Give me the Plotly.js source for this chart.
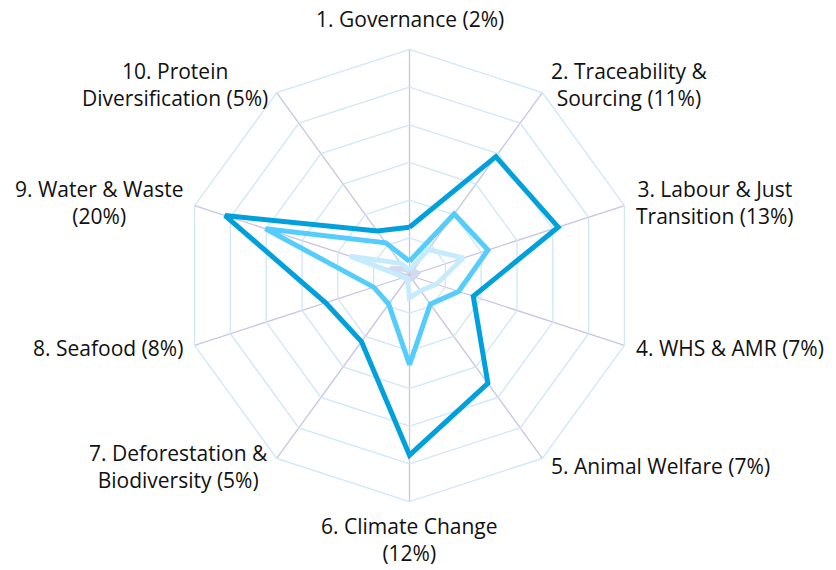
<!DOCTYPE html>
<html>
<head>
<meta charset="utf-8">
<script src="https://cdn.plot.ly/plotly-3.0.1.min.js"></script>
<style>html,body{margin:0;padding:0;background:#fff;}#chart{width:836px;height:570px;}</style>
</head>
<body>
<div id="chart"></div>
<script>
// Category labels (axis order, clockwise from top)
const categories = [
  "1. Governance (2%)",
  "2. Traceability &<br>Sourcing (11%)",
  "3. Labour & Just<br>Transition (13%)",
  "4. WHS & AMR (7%)",
  "5. Animal Welfare (7%)",
  "6. Climate Change<br>(12%)",
  "7. Deforestation &<br>Biodiversity (5%)",
  "8. Seafood (8%)",
  "9. Water & Waste<br>(20%)",
  "10. Protein<br>Diversification (5%)"
];
const categoryKeys = ["c1","c2","c3","c4","c5","c6","c7","c8","c9","c10"];

// Series values (grid rings at 1..6)
const seriesDark     = [1.28, 3.90, 4.15, 1.78, 3.54, 4.77, 2.17, 2.34, 5.15, 1.46];
const seriesLight    = [0.38, 2.02, 2.19, 1.37, 0.94, 2.37, 0.94, 1.00, 4.02, 1.07];
const seriesLighter  = [0.15, 0.85, 1.50, 0.75, 0.50, 0.60, 0.10, 0.15, 1.66, 0.40];
const seriesLavender = [0.10, 0.15, 0.22, 0.12, 0.10, 0.10, 0.10, 0.15, 0.55, 0.22];

const W = 836, H = 570;
const CX = 409.5, CY = 275.5, R = 226;

function closed(a){ return a.concat([a[0]]); }
function trace(vals, color, width){
  return {
    type: 'scatterpolar',
    r: closed(vals),
    theta: closed(categoryKeys),
    mode: 'lines',
    line: {color: color, width: width, shape: 'linear'},
    hoverinfo: 'skip',
    showlegend: false
  };
}

const data = [
  trace(seriesLavender, '#d5d9f0', 5.5),
  trace(seriesLighter,  '#c6ebfc', 5),
  trace(seriesLight,    '#55cdfc', 5),
  trace(seriesDark,     '#00a0dc', 5)
];

// Label annotations placed outside each vertex (derived from the polar geometry)
const annotations = categories.map((txt, i) => {
  const th = i * 2 * Math.PI / categories.length;
  const s = Math.sin(th), c = Math.cos(th);
  const vx = CX + R * s, vy = CY - R * c;
  let xanchor = 'center', yanchor = 'middle', xshift = 0, yshift = 0;
  if (Math.abs(s) < 0.1) {
    if (c > 0) { yanchor = 'bottom'; yshift = 15; }
    else { yanchor = 'top'; yshift = -8; }
  } else {
    xanchor = s > 0 ? 'left' : 'right';
    xshift = (s > 0 ? 1 : -1) * (2 + 8 * Math.abs(s));
    yshift = 10 * c;
  }
  return {
    xref: 'paper', yref: 'paper',
    x: vx / W, y: 1 - vy / H,
    xanchor, yanchor, xshift, yshift,
    text: txt, align: 'center', showarrow: false,
    font: {family: '"Open Sans", sans-serif', size: 21, color: '#111111'}
  };
});

const layout = {
  width: W, height: H,
  margin: {l: 0, r: 0, t: 0, b: 0, pad: 0},
  paper_bgcolor: '#ffffff',
  showlegend: false,
  polar: {
    domain: {x: [(CX - R) / W, (CX + R) / W], y: [1 - (CY + R) / H, 1 - (CY - R) / H]},
    gridshape: 'linear',
    bgcolor: '#ffffff',
    radialaxis: {
      range: [0, 6], dtick: 1, tick0: 0,
      showticklabels: false, ticks: '', showline: false,
      gridcolor: '#cfe6f8', gridwidth: 1.3
    },
    angularaxis: {
      type: 'category',
      categoryarray: categoryKeys,
      direction: 'clockwise', rotation: 90,
      showticklabels: false, ticks: '',
      gridcolor: '#c6c6e3', gridwidth: 1.3,
      showline: true, linecolor: '#cfe6f8', linewidth: 1.3,
      layer: 'below traces'
    }
  },
  annotations: annotations
};

Plotly.newPlot('chart', data, layout, {displayModeBar: false, staticPlot: true});
</script>
</body>
</html>
